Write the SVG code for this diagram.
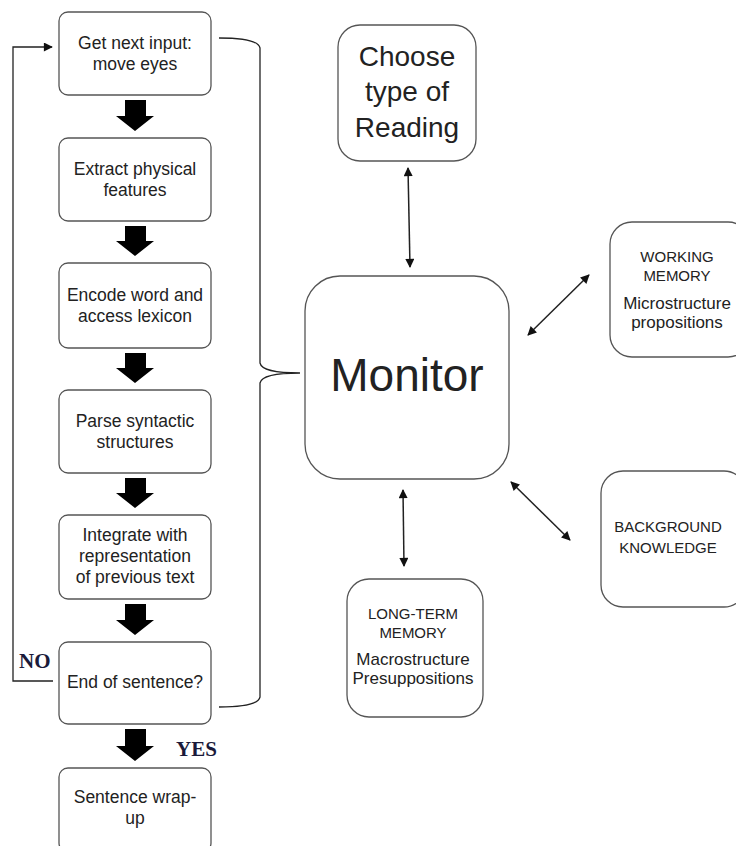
<svg xmlns="http://www.w3.org/2000/svg" width="736" height="846" viewBox="0 0 736 846">
<style>
.box{fill:#fff;stroke:#555;stroke-width:1.3}
.t{font-family:"Liberation Sans",Arial,sans-serif;fill:#222;text-anchor:middle}
.s17{font-size:17.5px}
.lab{font-family:"Liberation Serif","Times New Roman",serif;font-weight:bold;font-size:21px;fill:#1a1a3a}
.blk{fill:#000}
.ln{fill:none;stroke:#222;stroke-width:1.3}
.dbl{fill:none;stroke:#222;stroke-width:1.5;marker-start:url(#ah);marker-end:url(#ah)}
</style>
<defs>
<marker id="ah" viewBox="0 0 10 10" refX="9" refY="5" markerWidth="10" markerHeight="9" markerUnits="userSpaceOnUse" orient="auto-start-reverse">
<path d="M0,0 L10,5 L0,10 Z" fill="#111"/>
</marker>
</defs>

<g id="connectors">
<path class="blk" d="M125,100 H146 V116 H154 L135,131 L116,116 H125 Z"/>
<path class="blk" d="M125,226 H146 V241 H154 L135,256 L116,241 H125 Z"/>
<path class="blk" d="M125,353 H146 V368 H154 L135,383 L116,368 H125 Z"/>
<path class="blk" d="M125,478 H146 V493 H154 L135,508 L116,493 H125 Z"/>
<path class="blk" d="M125,604 H146 V620 H154 L135,635 L116,620 H125 Z"/>
<path class="blk" d="M125,729 H146 V746 H154 L135,761 L116,746 H125 Z"/>
<polyline class="ln" points="53,681 13,681 13,47 52,47" marker-end="url(#ah)"/>
<path class="ln" d="M219,38 Q258,38 260,48 V363 Q262,373 300,373 Q262,373 260,383 V697 Q258,707 219,707"/>
<line class="dbl" x1="408" y1="168" x2="410" y2="267"/>
<line class="dbl" x1="528" y1="335" x2="589" y2="275"/>
<line class="dbl" x1="511" y1="482" x2="570" y2="540"/>
<line class="dbl" x1="403" y1="490" x2="404" y2="566"/>
<text class="lab" x="19" y="668">NO</text>
<text class="lab" x="176" y="756">YES</text>
</g>

<g id="n1"><rect class="box" x="59" y="12" width="152" height="83" rx="9"/>
<text class="t s17" x="135" y="49">Get next input:</text><text class="t s17" x="135" y="70">move eyes</text></g>
<g id="n2"><rect class="box" x="59" y="138" width="152" height="83" rx="9"/>
<text class="t s17" x="135" y="175">Extract physical</text><text class="t s17" x="135" y="196">features</text></g>
<g id="n3"><rect class="box" x="59" y="263" width="152" height="85" rx="9"/>
<text class="t s17" x="135" y="301">Encode word and</text><text class="t s17" x="135" y="322">access lexicon</text></g>
<g id="n4"><rect class="box" x="59" y="390" width="152" height="83" rx="9"/>
<text class="t s17" x="135" y="427">Parse syntactic</text><text class="t s17" x="135" y="448">structures</text></g>
<g id="n5"><rect class="box" x="59" y="515" width="152" height="84" rx="9"/>
<text class="t s17" x="135" y="541">Integrate with</text><text class="t s17" x="135" y="562">representation</text><text class="t s17" x="135" y="583">of previous text</text></g>
<g id="n6"><rect class="box" x="59" y="642" width="152" height="82" rx="9"/>
<text class="t s17" x="135" y="688">End of sentence?</text></g>
<g id="n7"><rect class="box" x="59" y="768" width="152" height="84" rx="9"/>
<text class="t s17" x="135" y="803">Sentence wrap-</text><text class="t s17" x="135" y="824">up</text></g>

<g id="choose"><rect class="box" x="338" y="25" width="138" height="136" rx="22"/>
<text class="t" font-size="28" x="407" y="66">Choose</text><text class="t" font-size="28" x="407" y="101">type of</text><text class="t" font-size="28" x="407" y="137">Reading</text></g>

<g id="monitor"><rect class="box" x="305" y="276" width="204" height="203" rx="35"/>
<text class="t" font-size="46" x="407" y="391">Monitor</text></g>

<g id="wm"><rect class="box" x="610" y="222" width="140" height="135" rx="22"/>
<text class="t" font-size="15" x="677" y="262">WORKING</text><text class="t" font-size="15" x="677" y="281">MEMORY</text>
<text class="t" font-size="17" x="677" y="309">Microstructure</text><text class="t" font-size="17" x="677" y="328">propositions</text></g>

<g id="bk"><rect class="box" x="601" y="471" width="145" height="136" rx="22"/>
<text class="t" font-size="15" x="668" y="532">BACKGROUND</text><text class="t" font-size="15" x="668" y="553">KNOWLEDGE</text></g>

<g id="ltm"><rect class="box" x="347" y="579" width="136" height="138" rx="22"/>
<text class="t" font-size="15" x="413" y="619">LONG-TERM</text><text class="t" font-size="15" x="413" y="638">MEMORY</text>
<text class="t" font-size="17" x="413" y="665">Macrostructure</text><text class="t" font-size="17" x="413" y="684">Presuppositions</text></g>
</svg>
